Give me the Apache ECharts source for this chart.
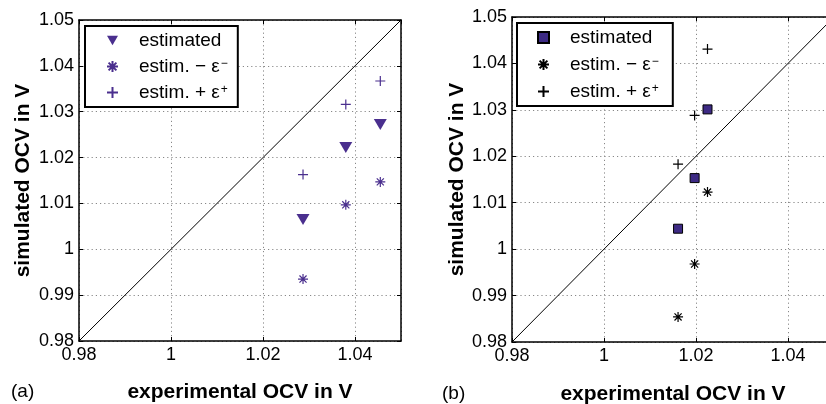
<!DOCTYPE html>
<html>
<head>
<meta charset="utf-8">
<script src="https://cdn.jsdelivr.net/npm/echarts@6/dist/echarts.min.js"></script>
<style>html,body{margin:0;padding:0;background:#fff;}#c{width:826px;height:404px;}</style>
</head>
<body>
<div id="c"></div>
<script>
// ---- data ----
const xTicks = [0.98, 1.00, 1.02, 1.04];
const yTicks = [0.98, 0.99, 1.00, 1.01, 1.02, 1.03, 1.04, 1.05];
const seriesNames = ['estimated', 'estim. − ε⁻', 'estim. + ε⁺'];

// panel (a)
const aX = [1.0287, 1.0380, 1.0455];
const aEstimated = [1.0065, 1.0222, 1.0272];
const aMinus = [0.9935, 1.0097, 1.0147];
const aPlus = [1.0163, 1.0316, 1.0367];

// panel (b)
const bX = [1.0161, 1.0197, 1.0225];
const bEstimated = [1.0044, 1.0153, 1.0301];
const bMinus = [0.9854, 0.9968, 1.0123];
const bPlus = [1.0183, 1.0288, 1.0431];

const diagonal = [[0.98, 0.98], [1.05, 1.05]];

// ---- helpers ----
const pair = (xs, ys) => xs.map((x, i) => [x, ys[i]]);
const PURPLE = '#4a2f8e';
const FONT = 'Liberation Sans';
const TRI = 'path://M0,0L2,0L1,1.7Z';
const ASTER = 'path://M0,-1L0,1M-1,0L1,0M-0.71,-0.71L0.71,0.71M-0.71,0.71L0.71,-0.71';
const PLUS = 'path://M0,-1L0,1M-1,0L1,0';
const gridLine = () => ({ show: true, lineStyle: { color: '#888', type: [1.2, 3], width: 1 } });

function fmt(list) {
  return v => { const t = list.find(t => Math.abs(t - v) < 1e-9); return t === undefined ? '' : (t === 1 ? '1' : String(+t.toFixed(2))); };
}
function mainX(gi, gap) {
  return {
    type: 'value', gridIndex: gi, min: 0.98, max: 1.05, interval: 0.02,
    name: 'experimental OCV in V', nameLocation: 'middle', nameGap: gap,
    nameTextStyle: { fontFamily: FONT, fontWeight: 'bold', fontSize: 21, color: '#000' },
    axisLine: { show: true, lineStyle: { color: '#000', width: 1.5 } },
    axisTick: { show: true, inside: true, length: 4, lineStyle: { color: '#000', width: 1 } },
    axisLabel: { fontFamily: FONT, fontSize: 18, color: '#000', margin: 5, showMaxLabel: false, formatter: fmt(xTicks) },
    splitLine: gridLine()
  };
}
function mainY(gi, gap) {
  return {
    type: 'value', gridIndex: gi, min: 0.98, max: 1.05, interval: 0.01,
    name: 'simulated OCV in V', nameLocation: 'middle', nameGap: gap,
    nameTextStyle: { fontFamily: FONT, fontWeight: 'bold', fontSize: 21, color: '#000' },
    axisLine: { show: true, lineStyle: { color: '#000', width: 1.5 } },
    axisTick: { show: true, inside: true, length: 4, lineStyle: { color: '#000', width: 1 } },
    axisLabel: { fontFamily: FONT, fontSize: 18, color: '#000', margin: 5, formatter: fmt(yTicks) },
    splitLine: gridLine()
  };
}
function sideX(gi) {
  return {
    type: 'value', gridIndex: gi, position: 'top', min: 0.98, max: 1.05, interval: 0.02,
    axisLine: { show: true, lineStyle: { color: '#000', width: 1.5 } },
    axisTick: { show: true, inside: true, length: 4, lineStyle: { color: '#000', width: 1 } },
    axisLabel: { show: false }, splitLine: { show: false }
  };
}
function sideY(gi) {
  return {
    type: 'value', gridIndex: gi, position: 'right', min: 0.98, max: 1.05, interval: 0.01,
    axisLine: { show: true, lineStyle: { color: '#000', width: 1.5 } },
    axisTick: { show: true, inside: true, length: 4, lineStyle: { color: '#000', width: 1 } },
    axisLabel: { show: false }, splitLine: { show: false }
  };
}
function legendFmt(name) {
  if (name === seriesNames[1]) return '{t|estim. − ε}{s|−}';
  if (name === seriesNames[2]) return '{t|estim. + ε}{s|+}';
  return '{t|' + name + '}';
}
function legend(left, top, names, labels, gap, padL, padR) {
  return {
    orient: 'vertical', left: left, top: top,
    data: names.map(n => ({ name: n })),
    itemWidth: 11, itemHeight: 11, itemGap: gap,
    padding: [5, padR, 5, padL],
    borderColor: '#000', borderWidth: 2, backgroundColor: '#fff',
    selectedMode: false,
    formatter: n => legendFmt(labels[names.indexOf(n)]),
    textStyle: {
      fontFamily: FONT, fontSize: 19, color: '#000',
      rich: {
        t: { fontFamily: FONT, fontSize: 19, color: '#000', lineHeight: 18, padding: [0, 0, 0, 16] },
        s: { fontFamily: FONT, fontSize: 12, color: '#000', lineHeight: 18, verticalAlign: 'top', padding: [0, 0, 0, 1] }
      }
    }
  };
}

const chart = echarts.init(document.getElementById('c'), null, { renderer: 'canvas' });
chart.setOption({
  animation: false,
  backgroundColor: '#fff',
  grid: [
    { left: 79, top: 20, width: 322, height: 321, containLabel: false, outerBoundsMode: 'none' },
    { left: 512, top: 17, width: 322, height: 325, containLabel: false, outerBoundsMode: 'none' }
  ],
  xAxis: [mainX(0, 41), mainX(1, 42), sideX(0), sideX(1)],
  yAxis: [mainY(0, 45), mainY(1, 44), sideY(0), sideY(1)],
  legend: [
    legend(85, 26, ['a0', 'a1', 'a2'], seriesNames, 7, 21, 10),
    legend(517, 23, ['b0', 'b1', 'b2'], seriesNames, 8, 20, 14)
  ],
  graphic: [
    { type: 'text', left: 11, top: 382, style: { text: '(a)', fontFamily: FONT, fontSize: 19, fill: '#000' } },
    { type: 'text', left: 442, top: 384, style: { text: '(b)', fontFamily: FONT, fontSize: 19, fill: '#000' } }
  ],
  series: [
    { type: 'line', xAxisIndex: 0, yAxisIndex: 0, data: diagonal, symbol: 'none', lineStyle: { color: '#000', width: 1 }, silent: true, z: 1 },
    { type: 'line', xAxisIndex: 1, yAxisIndex: 1, data: diagonal, symbol: 'none', lineStyle: { color: '#000', width: 1 }, silent: true, z: 1 },
    { name: 'a0', type: 'scatter', xAxisIndex: 0, yAxisIndex: 0, data: pair(aX, aEstimated), symbol: TRI, symbolSize: [13, 11], itemStyle: { color: PURPLE, opacity: 1 }, z: 3 },
    { name: 'a1', type: 'scatter', xAxisIndex: 0, yAxisIndex: 0, data: pair(aX, aMinus), symbol: ASTER, symbolSize: 10, itemStyle: { color: 'rgba(0,0,0,0)', borderColor: PURPLE, borderWidth: 1.2, opacity: 1 }, z: 3 },
    { name: 'a2', type: 'scatter', xAxisIndex: 0, yAxisIndex: 0, data: pair(aX, aPlus), symbol: PLUS, symbolSize: 10, itemStyle: { color: 'rgba(0,0,0,0)', borderColor: PURPLE, borderWidth: 1.2, opacity: 1 }, z: 3 },
    { name: 'b0', type: 'scatter', xAxisIndex: 1, yAxisIndex: 1, data: pair(bX, bEstimated), symbol: 'rect', symbolSize: 9, itemStyle: { color: '#3d2a84', borderColor: '#000', borderWidth: 1, opacity: 1 }, z: 3 },
    { name: 'b1', type: 'scatter', xAxisIndex: 1, yAxisIndex: 1, data: pair(bX, bMinus), symbol: ASTER, symbolSize: 10, itemStyle: { color: 'rgba(0,0,0,0)', borderColor: '#000', borderWidth: 1.2, opacity: 1 }, z: 3 },
    { name: 'b2', type: 'scatter', xAxisIndex: 1, yAxisIndex: 1, data: pair(bX, bPlus), symbol: PLUS, symbolSize: 10, itemStyle: { color: 'rgba(0,0,0,0)', borderColor: '#000', borderWidth: 1.2, opacity: 1 }, z: 3 }
  ]
});
</script>
</body>
</html>
